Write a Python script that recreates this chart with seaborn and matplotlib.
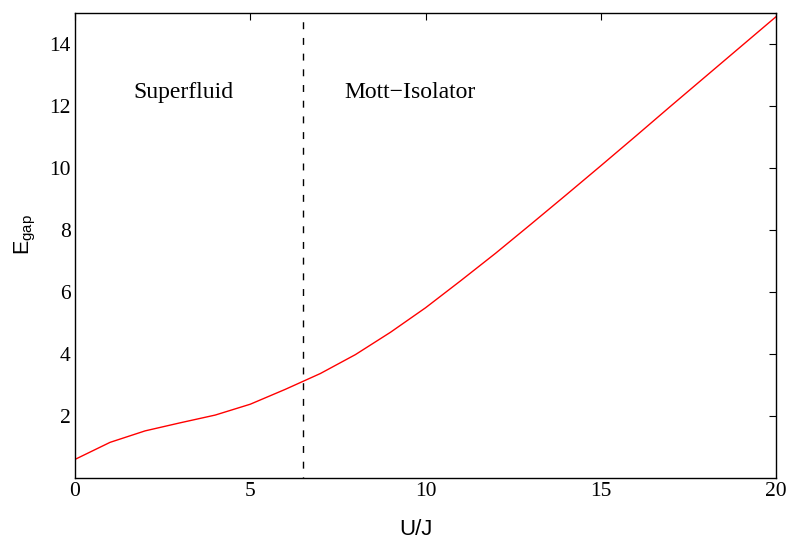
import matplotlib
matplotlib.use("Agg")
import matplotlib.pyplot as plt
import seaborn as sns
import numpy as np
import pandas as pd

# data
u_over_j = [0, 1, 2, 3, 4, 5, 6, 7, 8, 9, 10, 11, 12, 13, 14, 15, 16, 17, 18, 19, 20]
e_gap = [0.60, 1.15, 1.52, 1.78, 2.03, 2.38, 2.86, 3.37, 3.98, 4.70, 5.49,
         6.36, 7.25, 8.18, 9.12, 10.07, 11.03, 12.00, 12.96, 13.92, 14.88]
transition = 6.5
x_ticks = [0, 5, 10, 15, 20]
y_ticks = [2, 4, 6, 8, 10, 12, 14]
region_labels = ["Superfluid", "Mott\u2212Isolator"]

sns.set_theme(style="white")
plt.rcParams["font.family"] = ["Liberation Sans", "DejaVu Sans"]
plt.rcParams["mathtext.fontset"] = "custom"
plt.rcParams["mathtext.rm"] = "Liberation Sans"
plt.rcParams["mathtext.default"] = "regular"
plt.rcParams["text.color"] = "black"
plt.rcParams["axes.labelcolor"] = "black"
serif = ["Liberation Serif", "DejaVu Serif"]

df = pd.DataFrame({"U/J": u_over_j, "E": e_gap})

fig = plt.figure(figsize=(7.88, 5.42), dpi=100)
ax = fig.add_axes([75 / 788, 64 / 542, 701 / 788, 465 / 542])

sns.lineplot(data=df, x="U/J", y="E", ax=ax, color="red", linewidth=1)
ax.plot([transition, transition], [15, 0], color="black", linewidth=1,
        linestyle=(5.0, (5.0, 6.3)))

ax.set_xlim(0, 20)
ax.set_ylim(0, 15)
ax.set_xticks(x_ticks)
ax.set_yticks(y_ticks)
ax.tick_params(direction="in", length=5, width=0.8, top=True, right=True,
               labelsize=15.5, pad=3, colors="black")
for lbl in ax.get_xticklabels() + ax.get_yticklabels():
    lbl.set_fontfamily(serif)
for sp in ax.spines.values():
    sp.set_color("black")
    sp.set_linewidth(1)

ax.set_xlabel("U/J", fontsize=16)
ax.xaxis.set_label_coords(0.486, -0.088)
ax.set_ylabel(r"E$_{gap}$", fontsize=15.5)
ax.yaxis.set_label_coords(-0.053, 0.524)

ax.text(3.1, 12.45, region_labels[0], fontsize=17, ha="center", va="center",
        fontfamily=serif)
ax.text(9.55, 12.45, region_labels[1], fontsize=17, ha="center", va="center",
        fontfamily=serif)

fig.savefig("out.png", dpi=100)
